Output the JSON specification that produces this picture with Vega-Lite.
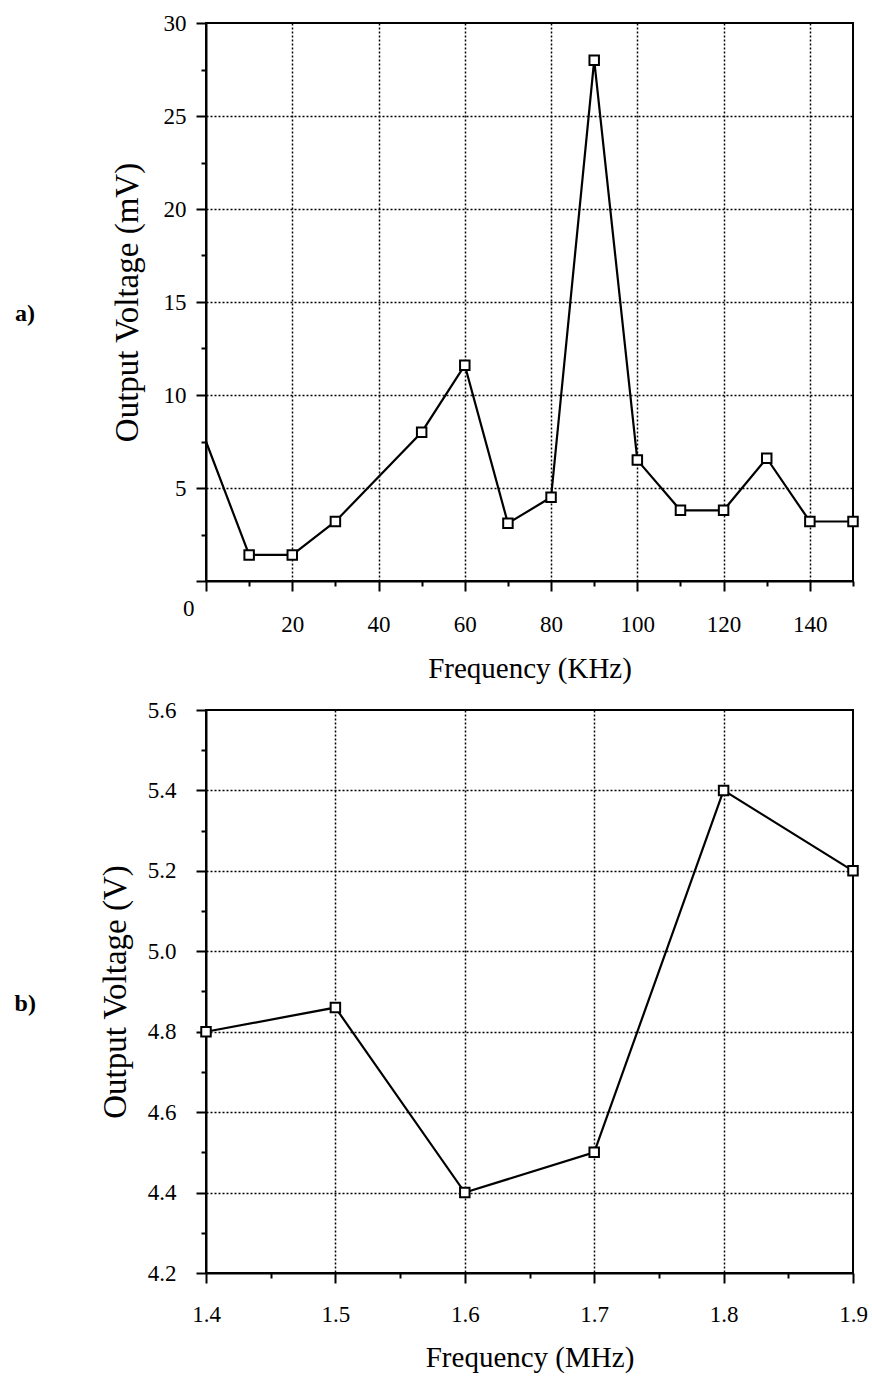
{
  "$schema": "https://vega.github.io/schema/vega-lite/v6.json",
  "padding": {"top": 11, "left": 13, "right": 0, "bottom": 5},
  "background": "white",
  "spacing": 14,
  "datasets": {
    "khz": [
      {"f": 0, "v": 7.5},
      {"f": 10, "v": 1.4},
      {"f": 20, "v": 1.4},
      {"f": 30, "v": 3.2},
      {"f": 50, "v": 8.0},
      {"f": 60, "v": 11.6},
      {"f": 70, "v": 3.1},
      {"f": 80, "v": 4.5},
      {"f": 90, "v": 28.0},
      {"f": 100, "v": 6.5},
      {"f": 110, "v": 3.8},
      {"f": 120, "v": 3.8},
      {"f": 130, "v": 6.6},
      {"f": 140, "v": 3.2},
      {"f": 150, "v": 3.2}
    ],
    "mhz": [
      {"f": 1.4, "v": 4.8},
      {"f": 1.5, "v": 4.86},
      {"f": 1.6, "v": 4.4},
      {"f": 1.7, "v": 4.5},
      {"f": 1.8, "v": 5.4},
      {"f": 1.9, "v": 5.2}
    ]
  },
  "config": {
    "font": "Liberation Serif",
    "view": {"stroke": "black", "strokeWidth": 2},
    "axis": {
      "domainColor": "black",
      "domainWidth": 2,
      "tickColor": "black",
      "tickWidth": 2,
      "labelColor": "black",
      "titleColor": "black",
      "labelFont": "Liberation Serif",
      "titleFont": "Liberation Serif",
      "labelFontSize": 23,
      "titleFontWeight": "normal",
      "gridColor": "black",
      "gridWidth": 1.5,
      "gridDash": [2, 2],
      "labelOverlap": false,
      "labelFlush": false
    },
    "axisX": {"titleFontSize": 29},
    "axisY": {"titleFontSize": 33},
    "title": {"font": "Liberation Serif", "color": "black"}
  },
  "vconcat": [
    {
      "width": 647,
      "height": 558,
      "title": {"text": "a)", "orient": "left", "angle": 0, "fontSize": 24, "fontWeight": "bold", "anchor": "middle", "align": "right", "baseline": "middle", "offset": 56, "dy": 12},
      "data": {"name": "khz"},
      "encoding": {
        "x": {
          "field": "f", "type": "quantitative",
          "scale": {"domain": [0, 150], "nice": false, "zero": false},
          "axis": {
            "title": "Frequency (KHz)",
            "values": [0, 10, 20, 30, 40, 50, 60, 70, 80, 90, 100, 110, 120, 130, 140, 150],
            "labelExpr": "(datum.value % 20 == 0 && datum.value > 0 && datum.value < 150) ? datum.label : ''",
            "tickSize": {"condition": {"test": "datum.value % 20 == 0", "value": 10}, "value": 5},
            "labelPadding": 22,
            "titlePadding": 18,
            "gridOpacity": {"condition": {"test": "datum.value % 20 == 0 && datum.value > 0 && datum.value < 150", "value": 1}, "value": 0}
          }
        },
        "y": {
          "field": "v", "type": "quantitative",
          "scale": {"domain": [0, 30], "nice": false},
          "axis": {
            "title": "Output Voltage (mV)",
            "values": [0, 2.5, 5, 7.5, 10, 12.5, 15, 17.5, 20, 22.5, 25, 27.5, 30],
            "labelExpr": "datum.value % 5 == 0 ? datum.label : ''",
            "tickSize": {"condition": {"test": "datum.value % 5 != 0", "value": 5}, "value": 10},
            "labelPadding": {"condition": {"test": "datum.value == 0", "value": 2}, "value": 10},
            "labelOffset": {"condition": {"test": "datum.value == 0", "value": 27}, "value": 0},
            "titlePadding": 19,
            "gridOpacity": {"condition": {"test": "datum.value % 5 == 0 && datum.value > 0 && datum.value < 30", "value": 1}, "value": 0}
          }
        }
      },
      "layer": [
        {"mark": {"type": "line", "color": "black", "strokeWidth": 2.2}},
        {
          "transform": [{"filter": "datum.f > 0"}],
          "mark": {"type": "point", "shape": "square", "size": 90, "filled": true, "fill": "white", "stroke": "black", "strokeWidth": 2, "opacity": 1}
        }
      ]
    },
    {
      "width": 647,
      "height": 563,
      "title": {"text": "b)", "orient": "left", "angle": 0, "fontSize": 24, "fontWeight": "bold", "anchor": "middle", "align": "right", "baseline": "middle", "offset": 42, "dy": 12},
      "data": {"name": "mhz"},
      "encoding": {
        "x": {
          "field": "f", "type": "quantitative",
          "scale": {"domain": [1.4, 1.9], "nice": false, "zero": false},
          "axis": {
            "title": "Frequency (MHz)",
            "values": [1.4, 1.45, 1.5, 1.55, 1.6, 1.65, 1.7, 1.75, 1.8, 1.85, 1.9],
            "labelExpr": "round(datum.value * 100) % 10 == 0 ? format(datum.value, '.1f') : ''",
            "tickSize": {"condition": {"test": "round(datum.value * 100) % 10 == 0", "value": 10}, "value": 5},
            "labelPadding": 20,
            "titlePadding": 17,
            "gridOpacity": {"condition": {"test": "round(datum.value * 100) % 10 == 0 && datum.value > 1.42 && datum.value < 1.88", "value": 1}, "value": 0}
          }
        },
        "y": {
          "field": "v", "type": "quantitative",
          "scale": {"domain": [4.2, 5.6], "nice": false, "zero": false},
          "axis": {
            "title": "Output Voltage (V)",
            "values": [4.2, 4.3, 4.4, 4.5, 4.6, 4.7, 4.8, 4.9, 5.0, 5.1, 5.2, 5.3, 5.4, 5.5, 5.6],
            "labelExpr": "round(datum.value * 10) % 2 == 0 ? format(datum.value, '.1f') : ''",
            "tickSize": {"condition": {"test": "round(datum.value * 10) % 2 == 0", "value": 10}, "value": 5},
            "labelPadding": 20,
            "titlePadding": 15,
            "gridOpacity": {"condition": {"test": "round(datum.value * 10) % 2 == 0 && datum.value > 4.25 && datum.value < 5.55", "value": 1}, "value": 0}
          }
        }
      },
      "layer": [
        {"mark": {"type": "line", "color": "black", "strokeWidth": 2.2}},
        {
          "mark": {"type": "point", "shape": "square", "size": 90, "filled": true, "fill": "white", "stroke": "black", "strokeWidth": 2, "opacity": 1}
        }
      ]
    }
  ]
}
